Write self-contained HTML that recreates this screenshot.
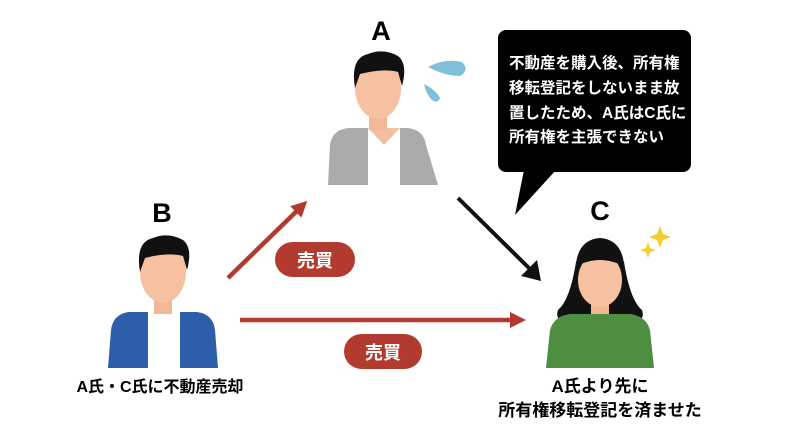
<!DOCTYPE html>
<html><head><meta charset="utf-8"><style>
html,body{margin:0;padding:0;background:#fff;}
svg{display:block;}
text{font-family:"Liberation Sans","Noto Sans CJK JP",sans-serif;font-weight:bold;}
</style></head><body>
<svg width="800" height="431" viewBox="0 0 800 431" xmlns="http://www.w3.org/2000/svg">
<defs>
<marker id="ar" markerWidth="16" markerHeight="16" refX="10" refY="8" orient="auto" markerUnits="userSpaceOnUse"><path d="M0,0 L16,8 L0,16 Z" fill="#b23a2e"/></marker>
</defs>
<rect width="800" height="431" fill="#fff"/>

<!-- A -->
<text x="381" y="40" font-size="27" text-anchor="middle" font-family="Liberation Sans">A</text>
<g transform="translate(378,0)">
 <path d="M-50,185 L-48,145 Q-46,130 -30,128 L30,128 Q46,130 48,145 L60,185 Z" fill="#ababab"/>
 <path d="M-10,128 L22,128 L22,185 L-10,185 Z" fill="#fff"/>
 <path d="M-10,128 L6,145 L22,128" fill="#f2c0a0"/>
 <rect x="-9" y="108" width="18" height="22" fill="#f2b896"/>
 <ellipse cx="0" cy="88" rx="23" ry="31" fill="#f5c1a0"/>
 <path d="M-23,88 Q-28,58 -10,54 Q5,48 20,56 Q30,64 24,86 L20,72 Q5,68 -18,74 Z" fill="#111"/>
</g>
<path d="M428,67 Q445,58 462,62 Q470,70 460,76 Q445,76 428,67 Z" fill="#7ec0da"/>
<path d="M424,84 Q436,90 440,98 Q438,104 432,100 Q426,94 424,84 Z" fill="#7ec0da"/>

<!-- bubble -->
<rect x="498" y="30" width="193" height="142" rx="8" fill="#000"/>
<path d="M524,170 L515,215 L556,170 Z" fill="#000"/>
<g fill="#fff" font-size="15.5">
<text x="509" y="68">不動産を購入後、所有権</text>
<text x="509" y="93">移転登記をしないまま放</text>
<text x="509" y="118">置したため、A氏はC氏に</text>
<text x="509" y="142">所有権を主張できない</text>
</g>

<!-- B -->
<text x="162" y="222" font-size="27" text-anchor="middle" font-family="Liberation Sans">B</text>
<g transform="translate(163,0)">
 <path d="M-55,368 L-52,330 Q-50,314 -34,312 L34,312 Q50,314 52,330 L55,368 Z" fill="#2e5ea9"/>
 <path d="M-15,312 L17,312 L17,368 L-15,368 Z" fill="#fff"/>
 <rect x="-9" y="292" width="18" height="22" fill="#f2b896"/>
 <ellipse cx="0" cy="272" rx="23" ry="31" fill="#f5c1a0"/>
 <path d="M-23,272 Q-28,242 -10,238 Q5,232 20,240 Q30,248 24,270 L20,256 Q5,252 -18,258 Z" fill="#111"/>
</g>
<text x="160" y="392" font-size="16" text-anchor="middle">A氏・C氏に不動産売却</text>

<!-- arrows -->
<line x1="228" y1="278" x2="303" y2="205" stroke="#b23a2e" stroke-width="4.5" marker-end="url(#ar)"/>
<rect x="275" y="242" width="80" height="35" rx="17.5" fill="#b23a2e"/>
<text x="315" y="267" font-size="18" fill="#fff" text-anchor="middle">売買</text>
<line x1="240" y1="320" x2="520" y2="320" stroke="#b23a2e" stroke-width="4.5" marker-end="url(#ar)"/>
<rect x="344" y="334" width="78" height="35" rx="17.5" fill="#b23a2e"/>
<text x="383" y="359" font-size="18" fill="#fff" text-anchor="middle">売買</text>
<line x1="458" y1="198" x2="533" y2="272" stroke="#111" stroke-width="4"/>
<path d="M541,281 L521,276 L537,260 Z" fill="#111"/>

<!-- C -->
<text x="600" y="220" font-size="27" text-anchor="middle" font-family="Liberation Sans">C</text>
<g transform="translate(600,0)">
 <path d="M-24,262 Q-30,300 -42,310 Q-46,322 -30,322 L30,322 Q46,322 42,310 Q30,300 24,262 Z" fill="#111"/>
 <path d="M-54,368 L-50,330 Q-46,316 -30,314 L30,314 Q46,316 50,330 L54,368 Z" fill="#4e8e40"/>
 <rect x="-9" y="292" width="18" height="22" fill="#f2b896"/>
 <ellipse cx="0" cy="280" rx="22" ry="27" fill="#f5c1a0"/>
 <path d="M-24,282 Q-28,240 0,238 Q28,240 24,282 L19,264 Q0,256 -19,264 Z" fill="#111"/>
</g>
<path d="M660,226 L663,234 L671,237 L663,240 L660,248 L657,240 L649,237 L657,234 Z" fill="#f5cd2e"/>
<path d="M648,242 L650,248 L656,250 L650,252 L648,258 L646,252 L640,250 L646,248 Z" fill="#f5cd2e"/>
<text x="600" y="392" font-size="17" text-anchor="middle">A氏より先に</text>
<text x="600" y="416" font-size="17" text-anchor="middle">所有権移転登記を済ませた</text>
</svg>
</body></html>
